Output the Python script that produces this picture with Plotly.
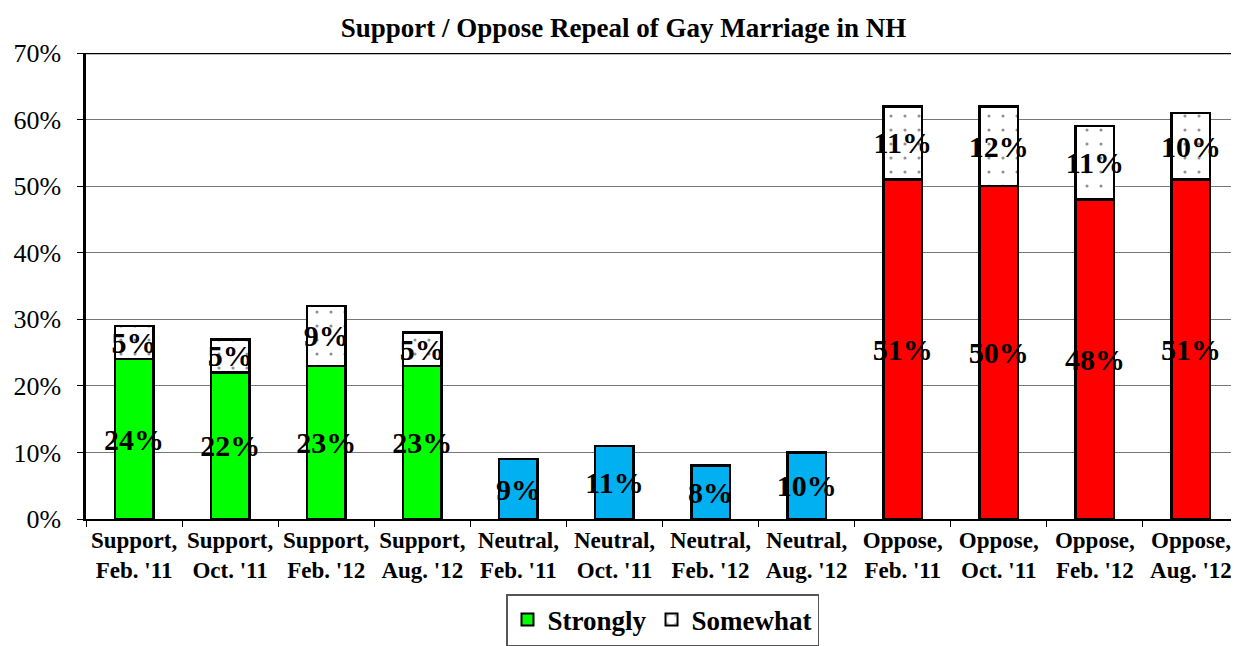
import plotly.graph_objects as go

categories = ["Support,<br>Feb. '11", "Support,<br>Oct. '11", "Support,<br>Feb. '12", "Support,<br>Aug. '12",
              "Neutral,<br>Feb. '11", "Neutral,<br>Oct. '11", "Neutral,<br>Feb. '12", "Neutral,<br>Aug. '12",
              "Oppose,<br>Feb. '11", "Oppose,<br>Oct. '11", "Oppose,<br>Feb. '12", "Oppose,<br>Aug. '12"]
strongly = [24, 22, 23, 23, 9, 11, 8, 10, 51, 50, 48, 51]
somewhat = [5, 5, 9, 5, None, None, None, None, 11, 12, 11, 10]
bar_colors = ['#00FF00'] * 4 + ['#00B0F0'] * 4 + ['#FF0000'] * 4

font = 'Liberation Serif, Times New Roman, serif'

fig = go.Figure()
fig.add_trace(go.Bar(
    x=categories, y=strongly, name='Strongly',
    marker=dict(color=bar_colors, line=dict(color='black', width=2.5)),
    text=[f'<b>{v}%</b>' for v in strongly], textposition='inside', insidetextanchor='middle',
    constraintext='none', textangle=0,
    textfont=dict(family=font, size=30, color='black'),
))
fig.add_trace(go.Bar(
    x=categories, y=somewhat, name='Somewhat',
    marker=dict(color='white', line=dict(color='black', width=2.5),
                pattern=dict(shape='.', fgcolor='#222', bgcolor='white', size=14, solidity=0.04)),
    text=[f'<b>{v}%</b>' if v is not None else '' for v in somewhat], textposition='inside',
    insidetextanchor='middle', constraintext='none', textangle=0,
    textfont=dict(family=font, size=30, color='black'),
))

# the page body adds an 8px margin, so the figure is sized to fit inside it
fig.update_layout(
    width=1231, height=638,
    barmode='stack', bargap=0.6,
    plot_bgcolor='white', paper_bgcolor='white',
    margin=dict(l=78, r=0, t=45, b=126),
    title=dict(text='<b>Support / Oppose Repeal of Gay Marriage in NH</b>',
               x=0.5, xanchor='center', y=0.97, yanchor='middle',
               font=dict(family=font, size=27, color='black')),
    font=dict(family=font, color='black'),
    showlegend=True,
    legend=dict(orientation='h', x=0.5, xanchor='center', y=-0.16, yanchor='top',
                bordercolor='#555', borderwidth=1.5, traceorder='normal',
                font=dict(family=font, size=27, color='black', weight='bold'),
                itemsizing='constant'),
)
fig.update_yaxes(range=[0, 70], dtick=10, ticksuffix='%', showgrid=True, gridcolor='#777', gridwidth=1,
                 showline=True, linecolor='black', linewidth=2.5, mirror=False,
                 ticks='outside', ticklen=6, tickcolor='black', automargin=False,
                 ticklabelstandoff=11,
                 tickfont=dict(family=font, size=26, color='black'), zeroline=False)
fig.update_xaxes(showline=True, linecolor='black', linewidth=1.5, ticks='outside', tickson='boundaries',
                 ticklen=6, tickcolor='black', automargin=False,
                 tickfont=dict(family=font, size=23, color='black', weight='bold'))
# top border of the plot area
fig.add_shape(type='line', xref='paper', yref='y', x0=0, x1=1, y0=70, y1=70,
              line=dict(color='black', width=2.5))

fig.write_html("out.html")
